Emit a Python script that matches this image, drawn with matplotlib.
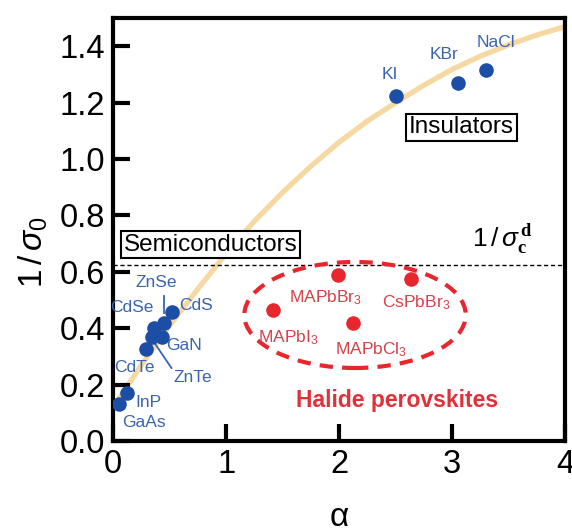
import matplotlib
matplotlib.use("Agg")
import matplotlib.pyplot as plt
from matplotlib.patches import Ellipse

plt.rcParams['font.family'] = ['Liberation Sans', 'DejaVu Sans']
plt.rcParams['mathtext.fontset'] = 'custom'
plt.rcParams['mathtext.rm'] = 'Liberation Sans'
plt.rcParams['mathtext.it'] = 'Liberation Sans:italic'
plt.rcParams['mathtext.bf'] = 'Liberation Serif:bold'

# ---- data ----
insul_names = ['KI', 'KBr', 'NaCl']
insul_x = [2.50, 3.05, 3.30]
insul_y = [1.223, 1.27, 1.315]

semi_names = ['CdS', 'ZnSe', 'CdSe', 'GaN', 'ZnTe', 'CdTe', 'InP', 'GaAs']
semi_x = [0.52, 0.45, 0.36, 0.43, 0.34, 0.29, 0.12, 0.05]
semi_y = [0.457, 0.42, 0.40, 0.37, 0.37, 0.325, 0.17, 0.13]

perov_names = ['MAPbI$_3$', 'MAPbBr$_3$', 'CsPbBr$_3$', 'MAPbCl$_3$']
perov_x = [1.41, 1.99, 2.64, 2.12]
perov_y = [0.465, 0.59, 0.575, 0.42]

curve_x = [0.0, 0.25, 0.5, 0.75, 1.0, 1.25, 1.5, 1.75, 2.0, 2.25, 2.5, 2.75, 3.0, 3.25, 3.5, 3.75, 4.0]
curve_y = [0.12, 0.27, 0.41, 0.54, 0.665, 0.78, 0.882, 0.975, 1.06, 1.135, 1.20, 1.262, 1.318, 1.365, 1.405, 1.44, 1.47]

sigma_c = 0.624

xticks = [0, 1, 2, 3, 4]
yticks = [0.0, 0.2, 0.4, 0.6, 0.8, 1.0, 1.2, 1.4]

BLUE = '#1c4ea6'
BLUE_T = '#3a64b0'
RED = '#e8262e'
RED_T = '#d8404a'

fig = plt.figure(figsize=(5.72, 5.32), dpi=100)
ax = fig.add_axes([0.198, 0.171, 0.790, 0.795])

ax.plot(curve_x, curve_y, color='#f6d9a2', lw=3.8, zorder=1, solid_capstyle='round',
        solid_joinstyle='round')
ax.axhline(sigma_c, color='black', lw=1.0, ls=(0, (3, 2)), zorder=1)

ax.plot(insul_x, insul_y, 'o', color=BLUE, ms=10.5, zorder=3, mec='none')
ax.plot(semi_x, semi_y, 'o', color=BLUE, ms=10.5, zorder=3, mec='none')
ax.plot(perov_x, perov_y, 'o', color=RED, ms=10.5, zorder=3, mec='none')

ell = Ellipse((2.14, 0.447), 1.96, 0.376, fill=False, ec=RED, lw=3.0,
              ls=(0, (3.2, 2.2)), zorder=2)
ax.add_patch(ell)

# labels
lab_fs = 12.5
insul_lab = {'KI': (2.45, 1.30), 'KBr': (2.93, 1.37), 'NaCl': (3.39, 1.415)}
for n in insul_names:
    ax.text(*insul_lab[n], n, color=BLUE_T, fontsize=lab_fs, ha='center', va='center')

semi_lab = {'ZnSe': (0.38, 0.564), 'CdSe': (0.16, 0.475), 'CdS': (0.73, 0.482),
            'GaN': (0.63, 0.34), 'CdTe': (0.19, 0.262), 'ZnTe': (0.70, 0.225),
            'InP': (0.31, 0.135), 'GaAs': (0.27, 0.065)}
for n in semi_names:
    ax.text(*semi_lab[n], n, color=BLUE_T, fontsize=lab_fs, ha='center', va='center')
ax.plot([0.45, 0.45], [0.514, 0.455], color=BLUE_T, lw=1.3, zorder=2)
ax.plot([0.365, 0.515], [0.348, 0.259], color=BLUE_T, lw=1.3, zorder=2)

perov_lab = [(1.55, 0.365), (1.88, 0.507), (2.68, 0.489), (2.28, 0.323)]
for n, p in zip(perov_names, perov_lab):
    ax.text(*p, n, color=RED_T, fontsize=12.5, ha='center', va='center')

ax.text(2.51, 0.145, 'Halide perovskites', color='#e0303a', fontsize=16.5,
        fontweight='bold', ha='center', va='center')

ax.text(0.862, 0.697, 'Semiconductors', fontsize=17.5, ha='center', va='center',
        bbox=dict(boxstyle='square,pad=0.12', fc='white', ec='black', lw=1.5), zorder=4)
ax.text(3.08, 1.112, 'Insulators', fontsize=17.5, ha='center', va='center',
        bbox=dict(boxstyle='square,pad=0.12', fc='white', ec='black', lw=1.5), zorder=4)

ax.text(3.45, 0.715, r'$1\,/\,\sigma_{\mathbf{c}}^{\,\mathbf{d}}$', fontsize=19,
        ha='center', va='center')

ax.set_xlim(0, 4)
ax.set_ylim(0, 1.5)
ax.set_xticks(xticks)
ax.set_xticklabels([str(t) for t in xticks])
ax.set_yticks(yticks)
ax.set_yticklabels([f'{t:.1f}' for t in yticks])
ax.tick_params(direction='in', length=12, width=3, labelsize=23.5, pad=6)
for s in ax.spines.values():
    s.set_linewidth(3)

ax.set_xlabel('α', fontsize=24)
ax.set_ylabel(r'$1\,/\,\sigma_0$', fontsize=24)
ax.xaxis.set_label_coords(0.5, -0.145)
ax.yaxis.set_label_coords(-0.139, 0.447)

fig.savefig('out.png', dpi=100)
